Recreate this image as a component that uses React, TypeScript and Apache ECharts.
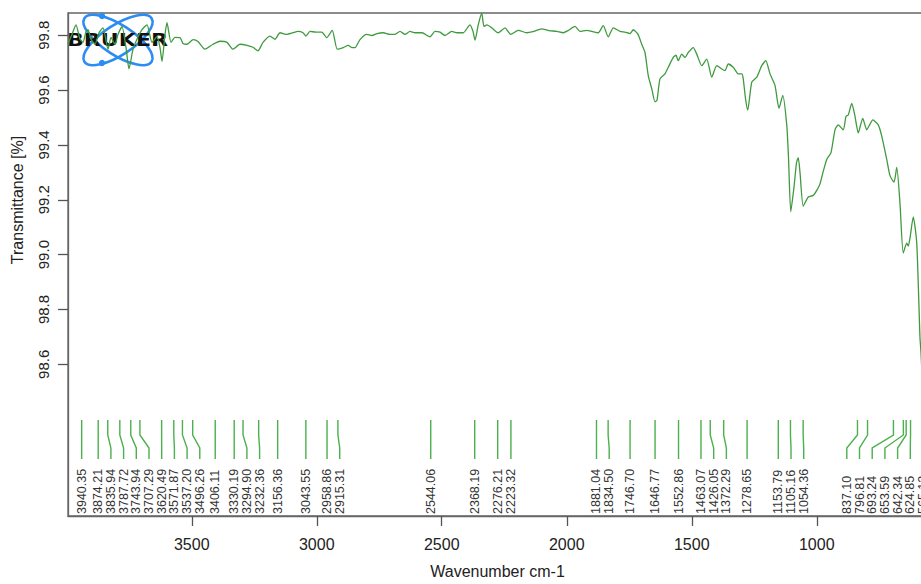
import React, { useEffect, useRef } from "react";
import * as echarts from "echarts";

// Spectrum samples: wavenumber (cm-1) and transmittance (%)
const wavenumbers = [
  3995, 3979, 3963, 3947, 3935, 3923, 3915, 3903, 3887, 3871, 3855, 3835, 3823, 3807, 3795, 3779,
  3763, 3751, 3735, 3719, 3699, 3679, 3659, 3639, 3627, 3619, 3607, 3599, 3583, 3567, 3547, 3535,
  3520, 3494, 3475, 3447, 3415, 3387, 3359, 3335, 3307, 3279, 3255, 3235, 3215, 3187, 3167, 3147,
  3119, 3095, 3075, 3055, 3043, 3027, 3003, 2980, 2960, 2938, 2918, 2894, 2874, 2859, 2847, 2827,
  2800, 2779, 2759, 2734, 2707, 2687, 2667, 2647, 2627, 2607, 2579, 2547, 2527, 2507, 2487, 2460,
  2439, 2414, 2387, 2375, 2367, 2354, 2340, 2331, 2319, 2300, 2274, 2247, 2224, 2194, 2160, 2135,
  2100, 2071, 2040, 2014, 1995, 1967, 1947, 1920, 1899, 1874, 1854, 1834, 1814, 1787, 1767, 1747,
  1734, 1715, 1700, 1687, 1674, 1660, 1647, 1639, 1627, 1607, 1594, 1574, 1563, 1554, 1540, 1527,
  1514, 1494, 1480, 1460, 1440, 1420, 1400, 1380, 1367, 1354, 1334, 1314, 1300, 1294, 1285, 1276,
  1260, 1240, 1220, 1204, 1187, 1167, 1151, 1136, 1120, 1113, 1104, 1091, 1081, 1074, 1067, 1054,
  1034, 1014, 1000, 987, 975, 960, 943, 927, 914, 894, 883, 874, 860, 847, 834, 816,
  800, 787, 776, 754, 740, 720, 707, 691, 680, 667, 654, 640, 634, 627, 614, 600,
  587, 583, 575,
];

const transmittance = [
  99.767, 99.803, 99.838, 99.785, 99.774, 99.813, 99.82, 99.785, 99.767, 99.809, 99.827, 99.749, 99.792, 99.767, 99.803, 99.831,
  99.755, 99.677, 99.749, 99.785, 99.82, 99.838, 99.774, 99.795, 99.755, 99.705, 99.803, 99.846, 99.774, 99.792, 99.791, 99.77,
  99.767, 99.784, 99.777, 99.749, 99.767, 99.778, 99.774, 99.749, 99.767, 99.763, 99.756, 99.743, 99.774, 99.797, 99.785, 99.809,
  99.803, 99.809, 99.814, 99.809, 99.797, 99.814, 99.811, 99.811, 99.791, 99.818, 99.749, 99.755, 99.763, 99.755, 99.755, 99.784,
  99.803, 99.799, 99.806, 99.809, 99.803, 99.803, 99.814, 99.803, 99.814, 99.809, 99.809, 99.794, 99.814, 99.811, 99.799, 99.814,
  99.809, 99.809, 99.838, 99.814, 99.782, 99.838, 99.88, 99.832, 99.838, 99.827, 99.809, 99.827, 99.803, 99.818, 99.809, 99.813,
  99.823, 99.817, 99.814, 99.809, 99.817, 99.832, 99.814, 99.818, 99.814, 99.809, 99.835, 99.794, 99.827, 99.814, 99.811, 99.806,
  99.82, 99.803, 99.767, 99.737, 99.653, 99.605, 99.557, 99.563, 99.641, 99.659, 99.683, 99.719, 99.727, 99.707, 99.731, 99.719,
  99.737, 99.755, 99.731, 99.689, 99.713, 99.647, 99.689, 99.677, 99.671, 99.695, 99.683, 99.659, 99.659, 99.641, 99.569, 99.527,
  99.629, 99.647, 99.689, 99.707, 99.659, 99.617, 99.533, 99.581, 99.473, 99.354, 99.156, 99.246, 99.335, 99.354, 99.3, 99.177,
  99.21, 99.216, 99.234, 99.258, 99.3, 99.347, 99.372, 99.455, 99.473, 99.455, 99.504, 99.509, 99.551, 99.504, 99.444, 99.497,
  99.455, 99.476, 99.491, 99.473, 99.432, 99.347, 99.288, 99.264, 99.318, 99.186, 99.006, 99.042, 99.031, 99.06, 99.138, 99.042,
  98.696, 98.643, 98.49,
];

// Picked peaks (cm-1)
const peakPositions = [
  3940.35, 3874.21, 3835.94, 3787.72, 3743.94, 3707.29, 3620.49, 3571.87, 3537.2, 3496.26,
  3406.11, 3330.19, 3294.9, 3232.36, 3156.36, 3043.55, 2958.86, 2915.31, 2544.06, 2368.19,
  2276.21, 2223.32, 1881.04, 1834.5, 1746.7, 1646.77, 1552.86, 1463.07, 1426.05, 1372.29,
  1278.65, 1153.79, 1105.16, 1054.36, 837.1, 796.81, 693.24, 653.59, 642.34, 624.85, 565.12,
];

const xTickValues = [3500, 3000, 2500, 2000, 1500, 1000];
const yTickValues = [98.6, 98.8, 99.0, 99.2, 99.4, 99.6, 99.8];

const X_MIN = 559;
const X_MAX = 3995;
const Y_MIN = 98.047;
const Y_MAX = 99.881;

const LABEL_GAP = 12.7;
const FONT = '"Liberation Sans", Arial, Helvetica, sans-serif';

// Push peak labels apart so they never overlap, keeping them inside the plot.
function spreadLabels(px: number[], gap: number, rightLimit: number): number[] {
  const out = px.slice();
  for (let i = 1; i < out.length; i++) out[i] = Math.max(out[i], out[i - 1] + gap);
  out[out.length - 1] = Math.min(out[out.length - 1], rightLimit);
  for (let i = out.length - 2; i >= 0; i--) out[i] = Math.min(out[i], out[i + 1] - gap);
  return out;
}

export default function App() {
  const ref = useRef<HTMLDivElement>(null);

  useEffect(() => {
    if (!ref.current) return;
    const chart = echarts.init(ref.current, undefined, { renderer: "svg" });

    const spectrum = wavenumbers.map((w, i) => [w, transmittance[i]]);
    const peaks = peakPositions.map((w) => [w, Y_MIN]);

    chart.setOption({
      animation: false,
      backgroundColor: "#ffffff",
      grid: {
        left: 68,
        top: 13,
        width: 859,
        height: 511,
        show: true,
        borderColor: "#666",
        borderWidth: 1.3,
        backgroundColor: "transparent",
      },
      xAxis: {
        type: "value",
        inverse: true,
        min: X_MIN,
        max: X_MAX,
        name: "Wavenumber cm-1",
        nameLocation: "middle",
        nameGap: 47,
        nameTextStyle: { fontFamily: FONT, fontSize: 16, color: "#222" },
        splitLine: { show: false },
        axisLine: { show: true, onZero: false, lineStyle: { color: "#666", width: 1.3 } },
        axisTick: { show: true, inside: false, length: 10, lineStyle: { color: "#555", width: 1.3 }, customValues: xTickValues },
        axisLabel: {
          customValues: xTickValues,
          margin: 20,
          fontFamily: FONT,
          fontSize: 16,
          color: "#222",
          formatter: (v: number) => String(v),
        },
      },
      yAxis: {
        type: "value",
        min: Y_MIN,
        max: Y_MAX,
        splitLine: { show: false },
        axisLine: { show: true, onZero: false, lineStyle: { color: "#666", width: 1.3 } },
        axisTick: { show: true, inside: false, length: 10, lineStyle: { color: "#555", width: 1.3 }, customValues: yTickValues },
        axisLabel: {
          customValues: yTickValues,
          rotate: 90,
          margin: 17,
          fontFamily: FONT,
          fontSize: 15,
          color: "#222",
          formatter: (v: number) => v.toFixed(1),
        },
      },
      series: [
        {
          type: "line",
          data: spectrum,
          symbol: "none",
          smooth: 0.2,
          lineStyle: { color: "#3f9a3f", width: 1.3 },
          z: 3,
        },
        {
          type: "custom",
          data: peaks,
          encode: { x: 0, y: 1 },
          z: 2,
          renderItem: (params: any, api: any) => {
            const i = params.dataIndex;
            const cs = params.coordSys;
            const bottom = cs.y + cs.height;
            const px = peakPositions.map((w) => api.coord([w, Y_MIN])[0]);
            const lx = spreadLabels(px, LABEL_GAP, cs.x + cs.width - 4);
            const x0 = px[i];
            const x1 = lx[i];
            return {
              type: "group",
              children: [
                {
                  type: "polyline",
                  shape: {
                    points: [
                      [x0, bottom - 96],
                      [x0, bottom - 81],
                      [x1, bottom - 68],
                      [x1, bottom - 57],
                    ],
                  },
                  style: { stroke: "#4cb04c", lineWidth: 1.4, fill: "none" },
                },
                {
                  type: "text",
                  x: x1,
                  y: bottom - 2,
                  rotation: Math.PI / 2,
                  style: {
                    text: peakPositions[i].toFixed(2),
                    fill: "#333",
                    font: `12.5px ${FONT}`,
                    align: "left",
                    verticalAlign: "middle",
                  },
                },
              ],
            };
          },
        },
      ],
      graphic: [
        {
          type: "text",
          x: 17,
          y: 200,
          rotation: Math.PI / 2,
          style: {
            text: "Transmittance [%]",
            fill: "#222",
            font: `16px ${FONT}`,
            align: "center",
            verticalAlign: "middle",
          },
        },
        {
          type: "group",
          z: 10,
          children: [
            {
              type: "ellipse",
              x: 118,
              y: 40,
              rotation: (33 * Math.PI) / 180,
              shape: { cx: 0, cy: 0, rx: 40, ry: 15 },
              style: { stroke: "#2b8cf2", lineWidth: 2.6, fill: "none" },
            },
            {
              type: "ellipse",
              x: 118,
              y: 40,
              rotation: (-33 * Math.PI) / 180,
              shape: { cx: 0, cy: 0, rx: 40, ry: 15 },
              style: { stroke: "#2b8cf2", lineWidth: 2.6, fill: "none" },
            },
            { type: "circle", shape: { cx: 102, cy: 16, r: 3.2 }, style: { fill: "#2b8cf2" } },
            { type: "circle", shape: { cx: 102, cy: 63, r: 3.2 }, style: { fill: "#2b8cf2" } },
            {
              type: "text",
              x: 117.5,
              y: 40,
              scaleX: 1.3,
              style: {
                text: "BRUKER",
                fill: "#111",
                font: 'bold 17px "DejaVu Sans", sans-serif',
                align: "center",
                verticalAlign: "middle",
              },
            },
          ],
        },
      ],
    });

    return () => chart.dispose();
  }, []);

  // The plot frame runs past the right edge of the visible area, which clips it.
  return (
    <div
      style={{ position: "fixed", left: 0, top: 0, width: 921, height: 584, overflow: "hidden", background: "#fff" }}
    >
      <div ref={ref} style={{ width: 960, height: 584 }} />
    </div>
  );
}
